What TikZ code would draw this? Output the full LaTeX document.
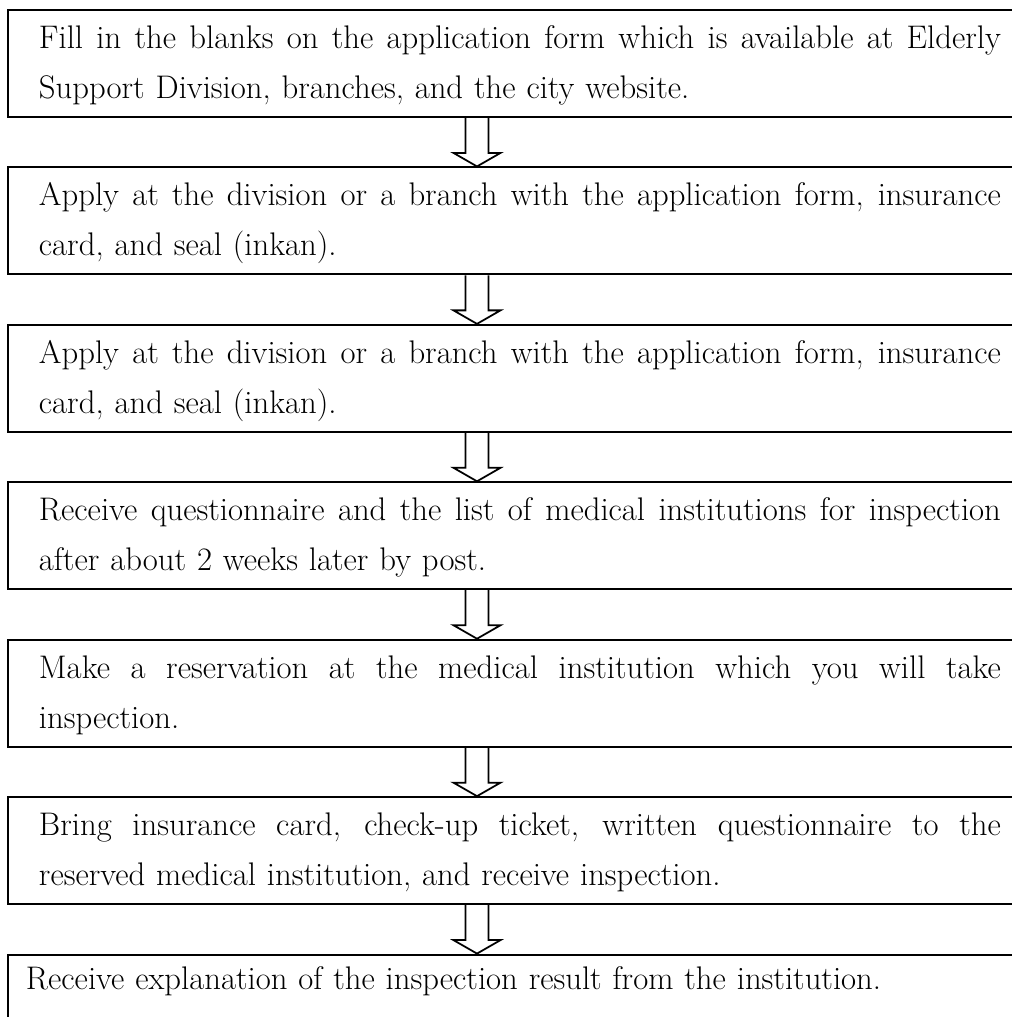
\documentclass[tikz,border=0pt]{standalone}
\usepackage{tikz}
\usetikzlibrary{positioning,calc}
\setlength{\parindent}{0pt}
\tikzset{stepbox/.style={rectangle, draw=black, line width=1.1pt, inner xsep=0.62cm, inner ysep=0pt, text width=19.24cm, minimum height=2.14cm, align=left, font=\fontsize{18.6}{28.45}\selectfont}}
\tikzset{lastbox/.style={stepbox, inner xsep=0.36cm, text width=19.8cm, minimum height=0pt}}
\tikzset{hollow/.style={draw=black, line width=1pt}}
\newcommand{\fullline}[1]{\makebox[19.24cm][s]{\spaceskip=0pt\xspaceskip=0pt\strut #1}\\}

\begin{document}
\begin{tikzpicture}[node distance=0.97cm]
\useasboundingbox (0,0) rectangle (20.22,-20.34);
\coordinate (ax) at (9.54,0);
\node (st1) [stepbox, anchor=north west] at (0.14,-0.18) {\fullline{Fill in the blanks on the application form which is available at Elderly}\strut Support Division, branches, and the city website.};
\node (st2) [stepbox, below=of st1] {\fullline{Apply at the division or a branch with the application form, insurance}\strut card, and seal (inkan).};
\node (st3) [stepbox, below=of st2] {\fullline{Apply at the division or a branch with the application form, insurance}\strut card, and seal (inkan).};
\node (st4) [stepbox, below=of st3] {\fullline{Receive questionnaire and the list of medical institutions for inspection}\strut after about 2 weeks later by post.};
\node (st5) [stepbox, below=of st4] {\fullline{Make a reservation at the medical institution which you will take}\strut inspection.};
\node (st6) [stepbox, below=of st5] {\fullline{Bring insurance card, check-up ticket, written questionnaire to the}\strut reserved medical institution, and receive inspection.};
\node (st7) [lastbox, below=of st6.south west, anchor=north west] {\strut Receive explanation of the inspection result from the institution.\rule[-1.5cm]{0pt}{0pt}};
% hollow arrows between the steps
\foreach \a/\b in {st1/st2,st2/st3,st3/st4,st4/st5,st5/st6,st6/st7}
  \draw [hollow] ($(\a.south -| ax)+(-0.23,0)$) -- ($(\b.north -| ax)+(-0.23,0.27)$) -- ++(-0.24,0) -- (\b.north -| ax) -- ++(0.47,0.27) -- ++(-0.24,0) -- ($(\a.south -| ax)+(0.23,0)$);
\end{tikzpicture}
\end{document}
